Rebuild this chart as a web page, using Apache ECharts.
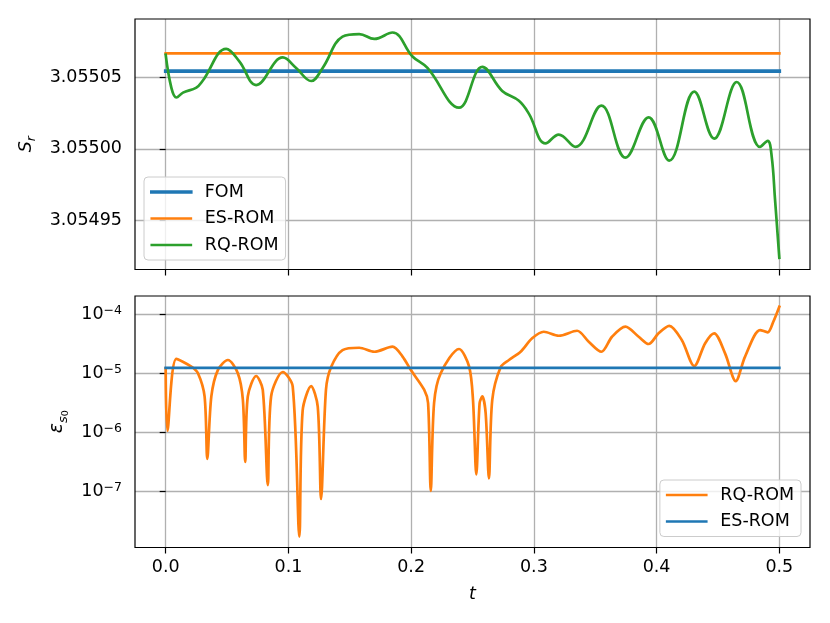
<!DOCTYPE html>
<html>
<head>
<meta charset="utf-8">
<script src="https://cdn.jsdelivr.net/npm/echarts@6/dist/echarts.min.js"></script>
<style>
  html, body { margin: 0; padding: 0; background: #fff; }
  #chart { width: 830px; height: 623px; }
</style>
</head>
<body>
<div id="chart"></div>
<script>
// time ticks shared by both panels
var tTicks = [0, 0.1, 0.2, 0.3, 0.4, 0.5];

// top panel: S_r
var tFlat = [0, 0.5];
var fomSr = [3.0550542, 3.0550542];
var esSr = [3.0550665, 3.0550665];
var tRq = [0, 0.0046, 0.0087, 0.0141, 0.025, 0.030, 0.0493, 0.060, 0.0737, 0.0954,
    0.1063, 0.1185, 0.1279, 0.1441, 0.1577, 0.170, 0.1848, 0.2011, 0.2133, 0.239,
    0.258, 0.2742, 0.2878, 0.2959, 0.3095, 0.3203, 0.3339, 0.355, 0.3746, 0.3935,
    0.4103, 0.4307, 0.4469, 0.4653, 0.4843, 0.4905, 0.4938, 0.4965, 0.5];
var rqSr = [3.0550656, 3.0550427, 3.0550358, 3.0550392, 3.0550427, 3.0550473, 3.0550697, 3.0550610, 3.0550445, 3.0550637,
    3.0550564, 3.0550473, 3.0550564, 3.0550782, 3.0550800, 3.0550766, 3.0550811, 3.0550644, 3.0550564, 3.0550287,
    3.0550571, 3.0550404, 3.0550335, 3.0550246, 3.0550038, 3.0550100, 3.0550014, 3.0550301, 3.0549939, 3.0550220,
    3.0549918, 3.0550399, 3.0550072, 3.0550466, 3.0550014, 3.0550056, 3.0549946, 3.0549648, 3.0549241];
var srTicks = [3.05495, 3.05500, 3.05505];

// bottom panel: error eps_s0
var esErr = [1.22e-5, 1.22e-5];
var tErr = [0, 0.0014, 0.0087, 0.0209, 0.0263, 0.0317, 0.0339, 0.0372, 0.0425, 0.0507,
    0.0588, 0.0629, 0.0648, 0.0669, 0.0737, 0.0791, 0.0832, 0.0859, 0.0954, 0.1035,
    0.1089, 0.1116, 0.1185, 0.1239, 0.1266, 0.1306, 0.1347, 0.1441, 0.1577, 0.170,
    0.1848, 0.193, 0.1998, 0.2106, 0.2138, 0.216, 0.2187, 0.2241, 0.239, 0.2472,
    0.2504, 0.2531, 0.2558, 0.258, 0.2607, 0.2634, 0.2661, 0.2729, 0.2797, 0.2892,
    0.2986, 0.3081, 0.3203, 0.3352, 0.3447, 0.355, 0.3637, 0.3746, 0.3854, 0.3935,
    0.4016, 0.4103, 0.4206, 0.4307, 0.4396, 0.4469, 0.4558, 0.4645, 0.4721, 0.4843,
    0.4905, 0.4951, 0.5];
var rqErr = [1.2e-5, 1.05e-6, 1.73e-5, 1.28e-5, 9.9e-6, 4.0e-6, 3.5e-7, 4.0e-6, 1.12e-5, 1.66e-5,
    9.9e-6, 3.5e-6, 3.1e-7, 4.0e-6, 8.9e-6, 5.2e-6, 1.26e-7, 4.0e-6, 1.04e-5, 5.9e-6,
    1.68e-8, 2.3e-6, 6.0e-6, 2.7e-6, 7.3e-8, 5.2e-6, 1.25e-5, 2.45e-5, 2.68e-5, 2.29e-5,
    2.79e-5, 1.9e-5, 1.12e-5, 5.2e-6, 3.1e-6, 1.0e-7, 3.1e-6, 9.9e-6, 2.55e-5, 1.29e-5,
    3.5e-6, 1.9e-7, 3.1e-6, 4.0e-6, 2.1e-6, 1.64e-7, 3.5e-6, 1.25e-5, 1.66e-5, 2.29e-5,
    3.87e-5, 5.0e-5, 4.28e-5, 5.2e-5, 3.39e-5, 2.29e-5, 4.12e-5, 6.1e-5, 4.12e-5, 3.1e-5,
    4.7e-5, 6.3e-5, 3.6e-5, 1.31e-5, 3.2e-5, 4.7e-5, 2.15e-5, 7.3e-6, 1.9e-5, 5.35e-5,
    4.9e-5, 7.4e-5, 1.33e-4];
var errTicks = [1e-7, 1e-6, 1e-5, 1e-4];
var errMin = 1.1e-8, errMax = 2.02e-4;

function pairs(xs, ys) {
    return xs.map(function (x, i) { return [x, ys[i]]; });
}
function lg(v) { return Math.log(v) / Math.LN10; }

var FONT = 'DejaVu Sans';
var FS = 17.5;
var BLUE = '#1f77b4', ORANGE = '#ff7f0e', GREEN = '#2ca02c';

function xAxisFor(gridIndex, withLabels) {
    return {
        type: 'value', gridIndex: gridIndex, min: -0.025, max: 0.525,
        axisLine: { show: false },
        axisTick: { show: true, length: 6, lineStyle: { color: '#000', width: 1.2 }, customValues: tTicks },
        axisLabel: {
            show: withLabels, customValues: tTicks, margin: 11, color: '#000',
            fontFamily: FONT, fontSize: FS, lineHeight: 18,
            formatter: function (v) { return v.toFixed(1); }
        },
        splitLine: { show: true, lineStyle: { color: '#b0b0b0', width: 1.3 } },
        name: withLabels ? '{t|t}' : '',
        nameLocation: 'middle', nameGap: 38,
        nameTextStyle: { rich: { t: { fontFamily: FONT, fontSize: FS, fontStyle: 'italic', color: '#000' } } }
    };
}

var legendBase = {
    orient: 'vertical',
    itemWidth: 39, itemHeight: 14, itemGap: 6.5,
    padding: [5, 7, 5, 6],
    backgroundColor: 'rgba(255,255,255,0.8)',
    borderColor: '#cccccc', borderWidth: 1, borderRadius: 4,
    itemStyle: { opacity: 0 },
    textStyle: { fontFamily: FONT, fontSize: FS, color: '#000', lineHeight: 20, padding: [0, 0, 0, 9] },
    formatter: function (n) { return n.trim(); }
};

var dom = document.getElementById('chart');
var myChart = echarts.init(dom, null, { renderer: 'canvas' });

var option = {
    animation: false,
    backgroundColor: '#fff',
    grid: [
        { left: 135, top: 19, width: 675, height: 250.5, show: true, borderColor: '#000', borderWidth: 1.2, backgroundColor: 'transparent', z: 3 },
        { left: 135, top: 296, width: 675, height: 251.5, show: true, borderColor: '#000', borderWidth: 1.2, backgroundColor: 'transparent', z: 3 }
    ],
    legend: [
        echarts.util.merge({ left: 144, top: 177, data: [
            { name: 'FOM', lineStyle: { width: 3.6 } },
            { name: 'ES-ROM', lineStyle: { width: 2.7 } },
            { name: 'RQ-ROM', lineStyle: { width: 2.7 } }
        ] }, legendBase),
        echarts.util.merge({ right: 29, top: 480, data: [
            { name: 'RQ-ROM ', lineStyle: { width: 2.7 } },
            { name: 'ES-ROM ', lineStyle: { width: 2.7 } }
        ] }, legendBase)
    ],
    xAxis: [xAxisFor(0, false), xAxisFor(1, true)],
    yAxis: [
        {
            type: 'value', gridIndex: 0, min: 3.054916, max: 3.0550905, scale: true,
            axisLine: { show: false },
            axisTick: { show: true, length: 6, lineStyle: { color: '#000', width: 1.2 }, customValues: srTicks },
            axisLabel: {
                customValues: srTicks, margin: 13, color: '#000', fontFamily: FONT, fontSize: FS,
                formatter: function (v) { return v.toFixed(5); }
            },
            splitLine: { show: true, lineStyle: { color: '#b0b0b0', width: 1.3 } },
            name: '{s|S}{r|r}', nameLocation: 'middle', nameRotate: 90, nameGap: 93,
            nameTextStyle: {
                rich: {
                    s: { fontFamily: FONT, fontSize: FS, fontStyle: 'italic', color: '#000', lineHeight: 24 },
                    r: { fontFamily: FONT, fontSize: 12.5, fontStyle: 'italic', color: '#000', lineHeight: 12, verticalAlign: 'bottom' }
                }
            }
        },
        {
            type: 'log', gridIndex: 1, min: errMin, max: errMax,
            axisLine: { show: false },
            axisTick: { show: true, length: 6, lineStyle: { color: '#000', width: 1.2 }, customValues: errTicks },
            axisLabel: {
                customValues: errTicks, margin: 13, color: '#000', fontFamily: FONT, fontSize: FS,
                formatter: function (v) {
                    var e = Math.round(lg(v));
                    return '{b|10}{sup|\u2212' + (-e) + '}';
                },
                rich: {
                    b: { fontFamily: FONT, fontSize: FS, color: '#000', lineHeight: 20 },
                    sup: { fontFamily: FONT, fontSize: 12.5, color: '#000', lineHeight: 12, verticalAlign: 'top' }
                }
            },
            splitLine: { show: true, lineStyle: { color: '#b0b0b0', width: 1.3 } },
            name: '{e|\u03b5}{s|s}{z|0}', nameLocation: 'middle', nameRotate: 90, nameGap: 62,
            nameTextStyle: {
                rich: {
                    e: { fontFamily: FONT, fontSize: 19, fontStyle: 'italic', color: '#000', lineHeight: 26 },
                    s: { fontFamily: FONT, fontSize: 13, fontStyle: 'italic', color: '#000', lineHeight: 18, verticalAlign: 'bottom' },
                    z: { fontFamily: FONT, fontSize: 9.5, color: '#000', lineHeight: 9, verticalAlign: 'bottom' }
                }
            }
        }
    ],
    series: [
        { name: 'FOM', type: 'line', xAxisIndex: 0, yAxisIndex: 0, symbol: 'none', data: pairs(tFlat, fomSr),
          lineStyle: { color: BLUE, width: 3.6, cap: 'square' }, itemStyle: { color: BLUE } },
        { name: 'ES-ROM', type: 'line', xAxisIndex: 0, yAxisIndex: 0, symbol: 'none', data: pairs(tFlat, esSr),
          lineStyle: { color: ORANGE, width: 2.7, cap: 'square' }, itemStyle: { color: ORANGE } },
        { name: 'RQ-ROM', type: 'line', xAxisIndex: 0, yAxisIndex: 0, symbol: 'none', smooth: 0.4, data: pairs(tRq, rqSr),
          lineStyle: { color: GREEN, width: 2.7, cap: 'square' }, itemStyle: { color: GREEN } },
        { name: 'RQ-ROM ', type: 'line', xAxisIndex: 1, yAxisIndex: 1, symbol: 'none', smooth: 0.3, data: pairs(tErr, rqErr),
          lineStyle: { color: ORANGE, width: 2.7, cap: 'square' }, itemStyle: { color: ORANGE } },
        { name: 'ES-ROM ', type: 'line', xAxisIndex: 1, yAxisIndex: 1, symbol: 'none', data: pairs(tFlat, esErr),
          lineStyle: { color: BLUE, width: 2.7, cap: 'square' }, itemStyle: { color: BLUE } }
    ]
};

if (option && typeof option === "object") {
    myChart.setOption(option, true);
}
</script>
</body>
</html>
